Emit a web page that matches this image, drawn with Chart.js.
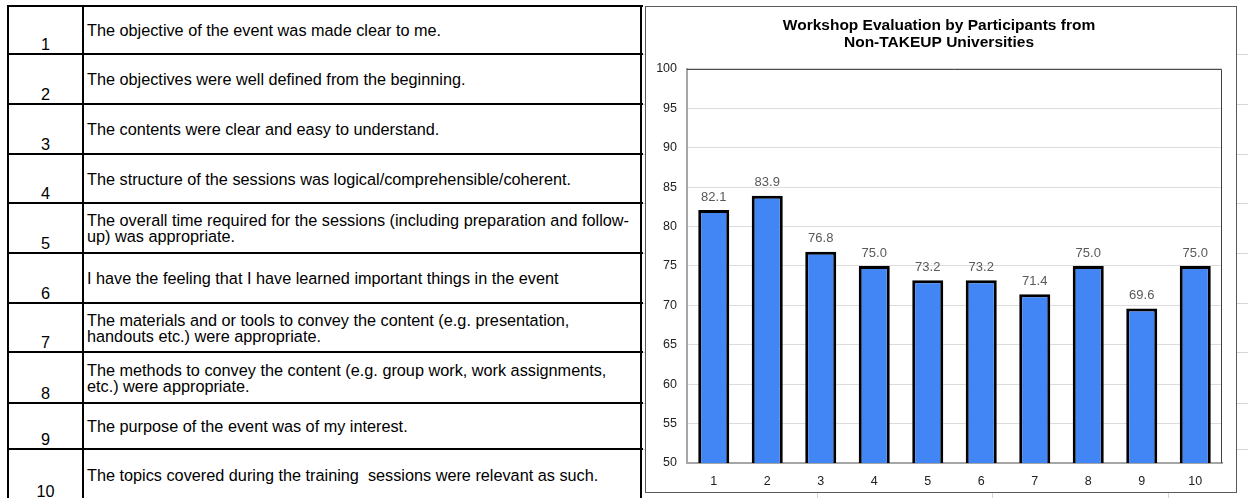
<!DOCTYPE html>
<html>
<head>
<meta charset="utf-8">
<title>Workshop Evaluation by Participants from Non-TAKEUP Universities</title>
<script src="https://cdn.jsdelivr.net/npm/chart.js@4.4.1/dist/chart.umd.min.js"></script>
<style>
  html, body { margin: 0; padding: 0; background: #fff; }
  body { width: 1248px; height: 498px; position: relative; overflow: hidden; font-family: Arial, "Liberation Sans", sans-serif; }
  .gl { position: absolute; background: #d6d6d6; }
  .ln { position: absolute; background: #000; }
  .num, .txt { position: absolute; display: flex; font-size: 16.25px; color: #000; white-space: nowrap; }
  .num { left: 9px; width: 73px; justify-content: center; align-items: flex-end; line-height: 16px; padding-bottom: 1px; box-sizing: border-box; }
  .txt { left: 84px; width: 556px; align-items: center; padding-left: 3px; line-height: 16px; box-sizing: border-box; }
  #box { position: absolute; left: 645px; top: 6px; width: 590px; height: 485px; border: 1px solid #5a5a5a; background: #fff; }
  #box canvas { display: block; }
</style>
</head>
<body>
<div id="sheet"></div>
<div id="box"><canvas id="chart"></canvas></div>
<script>
'use strict';

// chart data
const categories = ['1', '2', '3', '4', '5', '6', '7', '8', '9', '10'];
const scores = [82.1, 83.9, 76.8, 75.0, 73.2, 73.2, 71.4, 75.0, 69.6, 75.0];
const yTicks = [50, 55, 60, 65, 70, 75, 80, 85, 90, 95, 100];
const chartTitle = ['Workshop Evaluation by Participants from', 'Non-TAKEUP Universities'];

// questionnaire items shown in the table, one per category
const statements = [
  'The objective of the event was made clear to me.',
  'The objectives were well defined from the beginning.',
  'The contents were clear and easy to understand.',
  'The structure of the sessions was logical/comprehensible/coherent.',
  'The overall time required for the sessions (including preparation and follow-\nup) was appropriate.',
  'I have the feeling that I have learned important things in the event',
  'The materials and or tools to convey the content (e.g. presentation,\nhandouts etc.) were appropriate.',
  'The methods to convey the content (e.g. group work, work assignments,\netc.) were appropriate.',
  'The purpose of the event was of my interest.',
  'The topics covered during the training\u00a0 sessions were relevant as such.',
];

(function () {
  const esc = s => String(s ?? '').replace(/[&<>"']/g, c => ({'&':'&amp;','<':'&lt;','>':'&gt;','"':'&quot;',"'":'&#39;'}[c]));
  const rows = [6, 54, 104, 154, 203, 253, 303, 352, 403, 449, 501];
  const sheet = document.getElementById('sheet');
  let html = '';

  // faint spreadsheet gridlines peeking out around the objects
  rows.slice(1, -1).forEach(y => { html += `<div class="gl" style="left:642px;top:${y}px;width:606px;height:1px"></div>`; });
  [817, 992, 1168].forEach(x => { html += `<div class="gl" style="left:${x}px;top:440px;width:1px;height:58px"></div>`; });

  // table
  rows.forEach(y => { html += `<div class="ln" style="left:7px;top:${y - 1}px;width:636px;height:2px"></div>`; });
  [8, 83, 641].forEach(x => { html += `<div class="ln" style="left:${x - 1}px;top:5px;width:2px;height:500px"></div>`; });
  statements.forEach((s, i) => {
    const top = rows[i] + 1, h = rows[i + 1] - rows[i] - 2;
    html += `<div class="num" style="top:${top}px;height:${h}px">${esc(categories[i])}</div>`;
    html += `<div class="txt" style="top:${top}px;height:${h}px"><span>${s.split('\n').map(esc).join('<br>')}</span></div>`;
  });
  sheet.innerHTML = html;

  const valueLabels = {
    id: 'valueLabels',
    afterDatasetsDraw(chart) {
      const ctx = chart.ctx;
      const meta = chart.getDatasetMeta(0);
      ctx.save();
      ctx.font = '13px Arial, "Liberation Sans", sans-serif';
      ctx.fillStyle = '#595959';
      ctx.textAlign = 'center';
      ctx.textBaseline = 'middle';
      meta.data.forEach((bar, i) => ctx.fillText(scores[i].toFixed(1), bar.x, bar.y - 13));
      ctx.restore();
    }
  };

  const plotFrame = {
    id: 'plotFrame',
    afterDraw(chart) {
      const { ctx, chartArea: a } = chart;
      ctx.save();
      ctx.strokeStyle = '#404040';
      ctx.lineWidth = 1;
      ctx.beginPath();
      ctx.moveTo(a.left, a.top + 0.5);
      ctx.lineTo(a.right - 0.5, a.top + 0.5);
      ctx.lineTo(a.right - 0.5, a.bottom);
      ctx.stroke();
      ctx.restore();
    }
  };

  const font = { family: 'Arial, "Liberation Sans", sans-serif', size: 12.5 };

  new Chart(document.getElementById('chart'), {
    type: 'bar',
    data: {
      labels: categories,
      datasets: [{
        data: scores,
        backgroundColor: '#4285F4',
        borderColor: '#000',
        borderWidth: 3,
        borderSkipped: false,
        barPercentage: 0.58,
        categoryPercentage: 1,
      }],
    },
    options: {
      responsive: true, maintainAspectRatio: false, animation: false,
      layout: { padding: { left: 10, right: 14, top: 0, bottom: 3 } },
      plugins: {
        legend: { display: false },
        tooltip: { enabled: false },
        title: {
          display: true, text: chartTitle, color: '#000',
          font: { family: font.family, size: 15.5, weight: 'bold', lineHeight: 1.05 },
          padding: { top: 11, bottom: 18.4 },
        },
      },
      scales: {
        x: {
          grid: { display: true, color: 'transparent', drawTicks: false },
          border: { display: true, color: '#a6a6a6', width: 2 },
          ticks: { color: '#222', font, padding: 11, maxRotation: 0 },
          afterFit: scale => { scale.height = 26; },
        },
        y: {
          min: yTicks[0], max: yTicks[yTicks.length - 1],
          afterBuildTicks: scale => { scale.ticks = yTicks.map(v => ({ value: v })); },
          grid: { color: '#dcdcdc', lineWidth: 1, drawTicks: false },
          border: { display: true, color: '#a6a6a6', width: 2 },
          ticks: { color: '#222', font, padding: 10 },
          afterFit: scale => { scale.width = 31; },
        },
      },
    },
    plugins: [valueLabels, plotFrame],
  });
})();
</script>
</body>
</html>
